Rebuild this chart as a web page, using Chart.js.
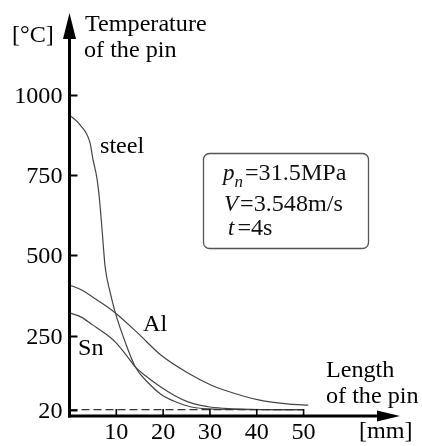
<!DOCTYPE html>
<html>
<head>
<meta charset="utf-8">
<script src="https://cdn.jsdelivr.net/npm/chart.js@4.4.1/dist/chart.umd.min.js"></script>
<style>
  html, body { margin: 0; background: #fff; }
  canvas { display: block; }
</style>
</head>
<body>
<canvas id="c" width="422" height="446"></canvas>
<script>
// pin temperature vs. length along the pin (mm, °C)
const steelX = [0, 2.3, 4.4, 5.0, 5.9, 6.4, 7.0, 7.6, 8.7, 9.8, 11.9, 14.1, 16.7, 19.5, 22.5, 26, 30, 35, 40, 50];
const steelY = [937, 906, 850, 800, 737, 675, 572, 466, 384, 321, 230, 152, 105, 68, 45, 28, 22, 20.5, 20, 20];
const alX = [0, 2.5, 5, 9.8, 14.6, 19.5, 25.3, 30.3, 33, 40.4, 47, 51];
const alY = [408, 393, 370, 321, 258, 190, 134, 96, 81, 50, 37, 34];
const snX = [0, 2.5, 5, 7.5, 9.8, 12, 14.1, 16.5, 19.5, 22.5, 25.3, 28, 30, 34, 38, 44, 50];
const snY = [321, 308, 283, 258, 230, 192, 152, 122, 90, 63, 44, 33, 28, 23, 21, 20, 20];
const ambientX = [0, 50];
const ambientY = [20, 20];

const yTicks = [20, 250, 500, 750, 1000];
const xTicks = [10, 20, 30, 40, 50];

const pts = (xs, ys) => xs.map((x, i) => ({ x, y: ys[i] }));
const SERIF = '"Liberation Serif", "DejaVu Serif", serif';
const CURVE = "#444";

function txt(ctx, s, x, y, { size = 23, style = "", align = "left", sx = 1.05 } = {}) {
  ctx.save();
  ctx.font = `${style} ${size}px ${SERIF}`;
  ctx.textAlign = align;
  ctx.textBaseline = "alphabetic";
  ctx.translate(x, y);
  ctx.scale(sx, 1);
  ctx.fillText(s, 0, 0);
  const w = ctx.measureText(s).width * sx;
  ctx.restore();
  return w;
}

function roundBox(ctx, x, y, w, h, r) {
  ctx.beginPath();
  ctx.moveTo(x + r, y);
  ctx.lineTo(x + w - r, y);
  ctx.arcTo(x + w, y, x + w, y + r, r);
  ctx.lineTo(x + w, y + h - r);
  ctx.arcTo(x + w, y + h, x + w - r, y + h, r);
  ctx.lineTo(x + r, y + h);
  ctx.arcTo(x, y + h, x, y + h - r, r);
  ctx.lineTo(x, y + r);
  ctx.arcTo(x, y, x + r, y, r);
  ctx.closePath();
  ctx.stroke();
}

const axesPlugin = {
  id: "axes",
  afterDatasetsDraw(chart) {
    const { ctx, chartArea: a, scales: { x, y } } = chart;
    const x0 = x.getPixelForValue(0), y0 = y.getPixelForValue(0);
    ctx.save();
    ctx.strokeStyle = "#000";
    ctx.fillStyle = "#000";

    // axis lines with arrow heads
    ctx.lineWidth = 3;
    ctx.beginPath(); ctx.moveTo(x0, y0 + 1.5); ctx.lineTo(x0, a.top + 20); ctx.stroke();
    ctx.beginPath(); ctx.moveTo(x0, a.top); ctx.lineTo(x0 - 6.5, a.top + 26); ctx.lineTo(x0 + 6.5, a.top + 26);
    ctx.closePath(); ctx.fill();
    ctx.beginPath(); ctx.moveTo(x0 - 1.5, y0); ctx.lineTo(a.right - 15, y0); ctx.stroke();
    ctx.beginPath(); ctx.moveTo(a.right, y0); ctx.lineTo(a.right - 23, y0 - 5.5); ctx.lineTo(a.right - 23, y0 + 5.5);
    ctx.closePath(); ctx.fill();

    // inward ticks
    ctx.lineWidth = 2;
    yTicks.forEach((v) => {
      const py = Math.round(y.getPixelForValue(v)) + 0.5;
      ctx.beginPath(); ctx.moveTo(x0, py); ctx.lineTo(x0 + 8, py); ctx.stroke();
      txt(ctx, String(v), x0 - 7, py + 7.5, { align: "right" });
    });
    ctx.lineWidth = 1.6;
    xTicks.forEach((v) => {
      const px = x.getPixelForValue(v);
      ctx.beginPath(); ctx.moveTo(px, y0); ctx.lineTo(px, y0 - 7); ctx.stroke();
      txt(ctx, String(v), px, 439, { align: "center" });
    });

    // axis titles
    txt(ctx, "[°C]", 12, 42);
    txt(ctx, "Temperature", 85, 31);
    txt(ctx, "of the pin", 84, 57);
    txt(ctx, "Length", 326, 377);
    txt(ctx, "of the pin", 326, 403);
    txt(ctx, "[mm]", 359, 438);

    // curve labels
    txt(ctx, "steel", 100, 153);
    txt(ctx, "Al", 143, 331);
    txt(ctx, "Sn", 78, 355);

    // parameter box
    ctx.strokeStyle = "#555";
    ctx.lineWidth = 1.3;
    roundBox(ctx, 203.5, 153.5, 165, 95, 6);
    ctx.fillStyle = "#111";
    let w = txt(ctx, "p", 223, 180, { style: "italic", sx: 1 });
    w += txt(ctx, "n", 223 + w, 187, { style: "italic", size: 17, sx: 1 });
    txt(ctx, "=31.5MPa", 225 + w, 180);
    w = txt(ctx, "V", 224, 211, { style: "italic", sx: 1 });
    txt(ctx, "=3.548m/s", 226 + w, 211);
    w = txt(ctx, "t", 228, 235, { style: "italic", sx: 1 });
    txt(ctx, "=4s", 231 + w, 235);
    ctx.restore();
  },
};

const line = (data, extra = {}) => Object.assign({
  data, borderColor: CURVE, borderWidth: 1.2, pointRadius: 0,
  cubicInterpolationMode: "monotone", fill: false,
}, extra);

new Chart(document.getElementById("c"), {
  type: "line",
  data: {
    datasets: [
      line(pts(ambientX, ambientY), { borderDash: [8, 4], borderColor: "#333", cubicInterpolationMode: "default" }),
      line(pts(steelX, steelY), { label: "steel" }),
      line(pts(alX, alY), { label: "Al" }),
      line(pts(snX, snY), { label: "Sn" }),
    ],
  },
  plugins: [axesPlugin],
  options: {
    responsive: false,
    animation: false,
    devicePixelRatio: 1,
    layout: { padding: { left: 69.5, right: 22, top: 13, bottom: 30 } },
    plugins: { legend: { display: false }, tooltip: { enabled: false } },
    scales: {
      x: { type: "linear", min: 0, max: 70.6, display: false },
      y: { type: "linear", min: 0, max: 1255, display: false },
    },
  },
});
</script>
</body>
</html>
